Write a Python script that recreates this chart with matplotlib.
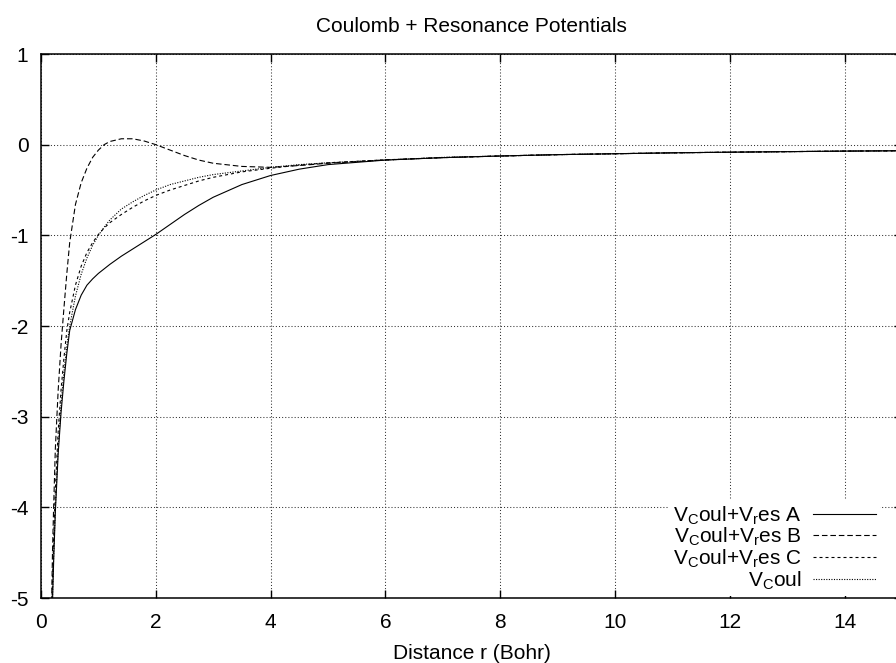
import matplotlib
matplotlib.use('Agg')
import matplotlib.pyplot as plt

plt.rcParams['font.family'] = ['Liberation Sans', 'DejaVu Sans']
plt.rcParams['mathtext.fontset'] = 'custom'
plt.rcParams['mathtext.rm'] = 'Liberation Sans'
plt.rcParams['axes.unicode_minus'] = False
plt.rcParams['font.size'] = 15

# distance r (Bohr)
r = [0.17, 0.2, 0.22, 0.25, 0.3, 0.35, 0.4, 0.45, 0.5, 0.6, 0.7, 0.8, 0.9,
     1.0, 1.1, 1.2, 1.4, 1.6, 1.8, 2.0, 2.25, 2.5, 2.75, 3.0, 3.5, 4.0, 4.5,
     5.0, 6.0, 7.0, 8.0, 9.0, 10.0, 11.0, 12.0, 13.0, 14.0, 15.0]

v_coul = [-5.88, -5.0, -4.55, -4.0, -3.33, -2.86, -2.5, -2.22, -2.0, -1.67,
          -1.43, -1.25, -1.11, -1.0, -0.91, -0.83, -0.71, -0.63, -0.56, -0.5,
          -0.44, -0.4, -0.36, -0.33, -0.29, -0.25, -0.22, -0.2, -0.17, -0.14,
          -0.125, -0.11, -0.1, -0.09, -0.083, -0.077, -0.071, -0.067]

res_a = [-5.9, -5.05, -4.6, -4.05, -3.4, -2.95, -2.6, -2.3, -2.05, -1.82,
         -1.66, -1.55, -1.48, -1.42, -1.37, -1.32, -1.23, -1.15, -1.07, -0.99,
         -0.88, -0.77, -0.67, -0.58, -0.44, -0.34, -0.27, -0.22, -0.17, -0.143,
         -0.125, -0.11, -0.1, -0.09, -0.083, -0.077, -0.071, -0.067]

res_b = [-5.6, -4.5, -4.0, -3.35, -2.7, -2.2, -1.8, -1.42, -1.08, -0.66,
         -0.42, -0.26, -0.14, -0.06, 0.0, 0.035, 0.065, 0.065, 0.04, 0.0,
         -0.06, -0.12, -0.17, -0.205, -0.24, -0.25, -0.23, -0.205, -0.168,
         -0.143, -0.125, -0.11, -0.1, -0.09, -0.083, -0.077, -0.071, -0.067]

res_c = [-5.7, -4.8, -4.35, -3.8, -3.15, -2.7, -2.35, -2.05, -1.85, -1.55,
         -1.34, -1.19, -1.08, -0.99, -0.92, -0.86, -0.77, -0.69, -0.62, -0.56,
         -0.5, -0.45, -0.4, -0.36, -0.3, -0.26, -0.225, -0.2, -0.167, -0.143,
         -0.125, -0.11, -0.1, -0.09, -0.083, -0.077, -0.071, -0.067]

labels = [r'V$_\mathrm{C}$oul+V$_\mathrm{r}$es A',
          r'V$_\mathrm{C}$oul+V$_\mathrm{r}$es B',
          r'V$_\mathrm{C}$oul+V$_\mathrm{r}$es C',
          r'V$_\mathrm{C}$oul']

fig = plt.figure(figsize=(8.96, 6.63), dpi=100)
ax = fig.add_axes([41/896, 65/663, 861/896, 544/663])

lw = 0.8
ax.plot(r, res_a, color='k', lw=lw, label=labels[0])
ax.plot(r, res_b, color='k', lw=lw, linestyle=(0, (5, 2.6)), label=labels[1])
ax.plot(r, res_c, color='k', lw=lw, linestyle=(0, (2.7, 2.7)), label=labels[2])
ax.plot(r, v_coul, color='k', lw=lw, linestyle=(0, (1, 1.3)), label=labels[3])

ax.set_xlim(0, 15)
ax.set_ylim(-5, 1)
ax.set_xticks(range(0, 15, 2))
ax.set_yticks(range(-5, 2))
ax.grid(True, color='0.2', linestyle=(0, (1, 2)), linewidth=0.75)
ax.tick_params(direction='in', top=True, right=True, length=6, width=1,
               labelsize=15)
ax.tick_params(axis='x', pad=10.5)
ax.tick_params(axis='y', pad=9)
for s in ax.spines.values():
    s.set_linewidth(1.1)

ax.set_title('Coulomb + Resonance Potentials', pad=16, fontsize=15)
ax.set_xlabel('Distance r (Bohr)', labelpad=9, fontsize=15)

leg = ax.legend(loc='lower right', bbox_to_anchor=(880/896, 67/663),
                bbox_transform=fig.transFigure, borderaxespad=0,
                markerfirst=False, handlelength=3.0, handletextpad=0.55,
                labelspacing=-0.04, borderpad=0.2, fancybox=False,
                framealpha=1, edgecolor='none', facecolor='white',
                fontsize=15)
for t in leg.get_texts():
    t.set_ha('right')

fig.savefig('out.png', dpi=100)
